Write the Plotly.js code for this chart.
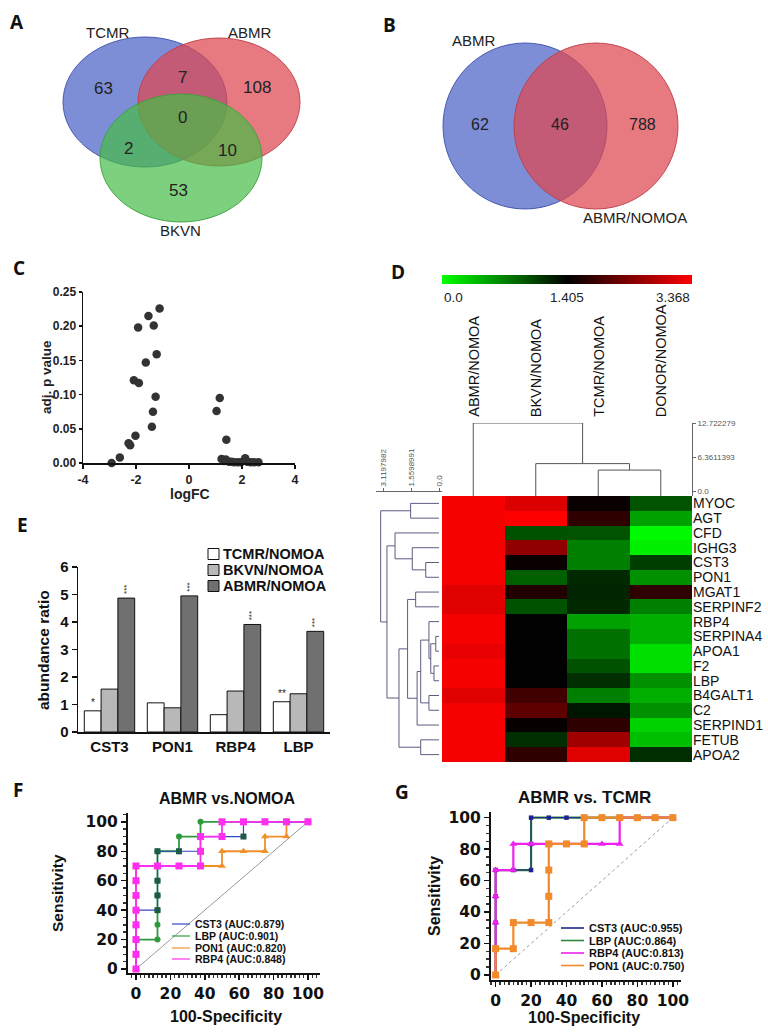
<!DOCTYPE html>
<html><head><meta charset="utf-8">
<script src="https://cdn.plot.ly/plotly-3.0.1.min.js"></script>
<style>body{margin:0;padding:0;background:#fff}#chart{width:768px;height:1033px}</style>
</head><body><div id="chart"></div>
<script>
// ---------------- DATA ----------------
// Panel A : three-set Venn
const vennA_sets = ['TCMR', 'ABMR', 'BKVN'];
// regions: TCMR only, ABMR only, BKVN only, TCMR∩ABMR, TCMR∩BKVN, ABMR∩BKVN, all three
const vennA_counts = [63, 108, 53, 7, 2, 10, 0];
// Panel B : two-set Venn
const vennB_sets = ['ABMR', 'ABMR/NOMOA'];
const vennB_counts = [62, 46, 788];   // ABMR only, both, ABMR/NOMOA only

// Panel C : volcano-like scatter
const volcano_logFC = [-2.92, -2.61, -2.28, -2.22, -2.02, -1.40, -1.36, -1.26, -2.08, -1.89, -1.63, -1.22, -1.92, -1.53, -1.33, -1.11,
  1.04, 1.16, 1.41, 1.23, 1.32, 1.39, 1.51, 1.61, 1.70, 1.83, 1.95, 2.12, 2.20, 2.33, 2.46, 2.62];
const volcano_adjP = [0.000, 0.008, 0.029, 0.026, 0.040, 0.053, 0.075, 0.097, 0.121, 0.117, 0.147, 0.159, 0.198, 0.215, 0.201, 0.226,
  0.076, 0.095, 0.034, 0.006, 0.003, 0.005, 0.002, 0.002, 0.001, 0.001, 0.001, 0.007, 0.002, 0.001, 0.001, 0.001];
const volcano_xticks = [-4, -2, 0, 2, 4];

// Panel D : heatmap
const heat_cols = ['ABMR/NOMOA', 'BKVN/NOMOA', 'TCMR/NOMOA', 'DONOR/NOMOA'];
const heat_genes = ['MYOC', 'AGT', 'CFD', 'IGHG3', 'CST3', 'PON1', 'MGAT1', 'SERPINF2', 'RBP4', 'SERPINA4',
  'APOA1', 'F2', 'LBP', 'B4GALT1', 'C2', 'SERPIND1', 'FETUB', 'APOA2'];
const heat_ABMR  = [3.30, 3.30, 3.30, 3.30, 3.30, 3.30, 3.13, 3.13, 3.30, 3.30, 3.20, 3.30, 3.30, 3.13, 3.30, 3.30, 3.30, 3.30];
const heat_BKVN  = [3.11, 3.37, 0.96, 2.51, 1.49, 0.88, 1.65, 0.96, 1.40, 1.40, 1.40, 1.40, 1.40, 1.90, 2.14, 1.46, 1.15, 1.77];
const heat_TCMR  = [1.49, 1.77, 0.94, 0.70, 0.70, 1.18, 1.20, 1.18, 0.52, 0.79, 0.79, 0.96, 1.15, 0.70, 1.29, 1.77, 2.64, 3.13];
const heat_DONOR = [0.94, 0.52, 0.02, 0.08, 1.07, 0.61, 1.77, 0.70, 0.44, 0.44, 0.17, 0.17, 0.61, 0.44, 0.61, 0.25, 0.35, 1.15];
const heat_scale = [0.0, 1.405, 3.368];
const heat_scale_labels = ['0.0', '1.405', '3.368'];
// column clustering: [childA, childB, height]  (leaves 0..3)
const col_linkage = [[2, 3, 4.0], [1, 4, 5.2], [0, 5, 12.722279]];
const col_scale_ticks = [0.0, 6.3611393, 12.722279];
// row clustering (leaves 0..17)
const row_linkage = [
  [0, 1, 1.58], [4, 5, 0.74], [3, 19, 1.49], [2, 20, 2.45], [6, 7, 1.30],
  [9, 10, 0.18], [11, 12, 0.28], [23, 24, 0.46], [8, 25, 0.56], [13, 14, 0.56],
  [26, 27, 1.02], [28, 15, 1.22], [22, 29, 1.75], [16, 17, 1.02], [30, 31, 2.23],
  [21, 32, 2.90], [18, 33, 3.25]];
const row_scale_ticks = [0.0, 1.5598991, 3.1197982];

// Panel E : abundance ratio
const abund_genes = ['CST3', 'PON1', 'RBP4', 'LBP'];
const abund_TCMR = [0.77, 1.06, 0.63, 1.10];
const abund_BKVN = [1.56, 0.88, 1.49, 1.39];
const abund_ABMR = [4.87, 4.95, 3.91, 3.66];
const abund_sig_TCMR = ['*', '', '', '**'];
const abund_sig_ABMR = ['***', '***', '***', '***'];
const abund_series = ['TCMR/NOMOA', 'BKVN/NOMOA', 'ABMR/NOMOA'];

// Panel F : ROC ABMR vs NOMOA
const rocF_names = ['CST3', 'LBP', 'PON1', 'RBP4'];
const rocF_auc = [0.879, 0.901, 0.820, 0.848];
const rocF_CST3_x = [0, 0, 0, 0, 0, 12.5, 12.5, 12.5, 12.5, 12.5, 25, 37.5, 37.5, 50, 62.5, 62.5, 75, 87.5, 100];
const rocF_CST3_y = [0, 10, 20, 30, 40, 40, 50, 60, 70, 80, 80, 80, 90, 90, 90, 100, 100, 100, 100];
const rocF_LBP_x = [0, 0, 0, 12.5, 12.5, 12.5, 12.5, 12.5, 12.5, 12.5, 25, 25, 37.5, 37.5, 50, 62.5, 75, 87.5, 100];
const rocF_LBP_y = [0, 10, 20, 20, 30, 40, 50, 60, 70, 80, 80, 90, 90, 100, 100, 100, 100, 100, 100];
const rocF_PON1_x = [0, 0, 0, 0, 0, 0, 0, 0, 12.5, 25, 37.5, 50, 50, 62.5, 75, 75, 87.5, 87.5, 100];
const rocF_PON1_y = [0, 10, 20, 30, 40, 50, 60, 70, 70, 70, 70, 70, 80, 80, 80, 90, 90, 100, 100];
const rocF_RBP4_x = [0, 0, 0, 0, 0, 0, 0, 0, 12.5, 25, 37.5, 37.5, 37.5, 50, 50, 62.5, 75, 87.5, 100];
const rocF_RBP4_y = [0, 10, 20, 30, 40, 50, 60, 70, 70, 70, 70, 80, 90, 90, 100, 100, 100, 100, 100];

// Panel G : ROC ABMR vs TCMR
const rocG_names = ['CST3', 'LBP', 'RBP4', 'PON1'];
const rocG_auc = [0.955, 0.864, 0.813, 0.750];
const rocG_CST3_x = [0, 0, 0, 0, 0, 10, 20, 20, 20, 30, 40, 50, 60, 70, 80, 90, 100];
const rocG_CST3_y = [0, 16.7, 33.3, 50, 66.7, 66.7, 66.7, 83.3, 100, 100, 100, 100, 100, 100, 100, 100, 100];
const rocG_LBP_x = [0, 0, 0, 0, 0, 10, 20, 20, 30, 40, 50, 60, 70, 80, 90, 100];
const rocG_LBP_y = [0, 16.7, 33.3, 50, 66.7, 66.7, 66.7, 100, 100, 100, 100, 100, 100, 100, 100, 100];
const rocG_RBP4_x = [0, 0, 0, 0, 0, 10, 10, 20, 30, 40, 50, 60, 70, 70, 80, 90, 100];
const rocG_RBP4_y = [0, 16.7, 33.3, 50, 66.7, 66.7, 83.3, 83.3, 83.3, 83.3, 83.3, 83.3, 83.3, 100, 100, 100, 100];
const rocG_PON1_x = [0, 0, 10, 10, 20, 30, 30, 30, 30, 40, 50, 50, 60, 70, 80, 90, 100];
const rocG_PON1_y = [0, 16.7, 16.7, 33.3, 33.3, 33.3, 50, 66.7, 83.3, 83.3, 83.3, 100, 100, 100, 100, 100, 100];
const roc_diag = [0, 100];

// ---------------- HELPERS ----------------
const W = 768, H = 1033;
const fx = p => p / W;
const fy = p => 1 - p / H;
const BOLD = 'bold';
const ARIAL = 'Liberation Sans, Arial, sans-serif';
const DJV = 'DejaVu Sans, sans-serif';

// builds elbow-connector polylines of a dendrogram; leafBase = where leaf legs end
function dendro(linkage, nLeaves, leafBase) {
  const pos = [], hh = [];
  for (let i = 0; i < nLeaves; i++) { pos.push(i); hh.push(leafBase); }
  const P = [], Hh = [];
  linkage.forEach(([a, b, ht]) => {
    P.push(pos[a], pos[a], pos[b], pos[b], null);
    Hh.push(hh[a], ht, ht, hh[b], null);
    pos.push((pos[a] + pos[b]) / 2); hh.push(ht);
  });
  return {P, H: Hh};
}

const traces = [];
const shapes = [];
const annotations = [];

function ann(text, px, py, o = {}) {
  annotations.push(Object.assign({
    text, x: fx(px), y: fy(py), xref: 'paper', yref: 'paper', showarrow: false,
    xanchor: 'center', yanchor: 'middle',
    font: {family: ARIAL, size: 14, color: '#111'}
  }, o));
}

// Panel letters
[['A', 17, 22], ['B', 389, 25], ['C', 19, 268], ['D', 398, 272], ['E', 22, 525], ['F', 18, 790], ['G', 402, 792]]
  .forEach(([t, x, y]) => ann(t, x, y, {font: {family: 'Open Sans, sans-serif', size: 19, weight: 700, color: '#111'}}));

// ---------------- Panel A ----------------
function ellipse(cx, cy, rx, ry, fill, line) {
  shapes.push({type: 'circle', xref: 'paper', yref: 'paper', x0: fx(cx - rx), x1: fx(cx + rx), y0: fy(cy + ry), y1: fy(cy - ry),
    fillcolor: fill, line: {color: line, width: 1}, layer: 'below'});
}
ellipse(145, 102, 82, 65, 'rgba(70,94,196,0.70)', 'rgba(60,80,170,0.9)');
ellipse(219, 102, 81, 64, 'rgba(222,70,80,0.72)', 'rgba(190,60,70,0.9)');
ellipse(181, 158, 81, 64, 'rgba(70,188,70,0.70)', 'rgba(60,160,60,0.9)');
ann(vennA_sets[0], 107, 33, {font: {family: ARIAL, size: 15, color: '#222'}});
ann(vennA_sets[1], 250, 33, {font: {family: ARIAL, size: 15, color: '#222'}});
ann(vennA_sets[2], 180, 230, {font: {family: ARIAL, size: 15, color: '#222'}});
const vennA_pos = [[103, 88], [257, 87], [178, 190], [182, 77], [128, 148], [227, 150], [182, 118]];
vennA_counts.forEach((c, i) => ann(String(c), vennA_pos[i][0], vennA_pos[i][1], {font: {family: ARIAL, size: 17, color: '#222'}}));

// ---------------- Panel B ----------------
ellipse(525, 126, 82, 83, 'rgba(70,94,196,0.70)', 'rgba(60,80,170,0.9)');
ellipse(596, 126, 82, 83, 'rgba(222,70,80,0.72)', 'rgba(190,60,70,0.9)');
ann(vennB_sets[0], 474, 40, {font: {family: ARIAL, size: 15, color: '#222'}});
ann(vennB_sets[1], 635, 217, {font: {family: ARIAL, size: 15, color: '#222'}});
const vennB_pos = [[480, 125], [560, 125], [642, 125]];
vennB_counts.forEach((c, i) => ann(String(c), vennB_pos[i][0], vennB_pos[i][1], {font: {family: ARIAL, size: 16, color: '#222'}}));

// ---------------- Panel C ----------------
traces.push({type: 'scatter', mode: 'markers', x: volcano_logFC, y: volcano_adjP, xaxis: 'x', yaxis: 'y',
  marker: {size: 8.5, color: '#333'}, cliponaxis: false, showlegend: false, hoverinfo: 'skip'});
ann('adj. p value', 46, 377, {textangle: -90, font: {family: ARIAL, size: 13.5, weight: BOLD, color: '#222'}});
ann('logFC', 190, 494, {font: {family: ARIAL, size: 14, weight: BOLD, color: '#222'}});

// ---------------- Panel D ----------------
// colour key: a two-row heatmap of the scale values, smoothly interpolated
traces.push({type: 'heatmap', z: [heat_scale, heat_scale], x: heat_scale.map((v, i) => i), y: [0, 1],
  xaxis: 'x3', yaxis: 'y3', zmin: heat_scale[0], zmax: heat_scale[2], zsmooth: 'best',
  colorscale: [[0, '#00ff00'], [heat_scale[1] / heat_scale[2], '#000000'], [1, '#ff0000']],
  showscale: false, hoverinfo: 'skip'});
heat_scale_labels.forEach((t, i) => annotations.push({text: t, x: i, xref: 'x3', y: fy(297), yref: 'paper', showarrow: false,
  xanchor: i === 0 ? 'left' : (i === heat_scale_labels.length - 1 ? 'right' : 'center'), yanchor: 'middle',
  font: {family: ARIAL, size: 13.5, color: '#222'}}));

const heatZ = heat_genes.map((g, r) => [heat_ABMR[r], heat_BKVN[r], heat_TCMR[r], heat_DONOR[r]]);
traces.push({type: 'heatmap', z: heatZ, x: heat_cols.map((c, i) => i), y: heat_genes.map((g, i) => i),
  xaxis: 'x2', yaxis: 'y2', zmin: heat_scale[0], zmax: heat_scale[2],
  colorscale: [[0, '#00ff00'], [heat_scale[1] / heat_scale[2], '#000000'], [1, '#ff0000']],
  showscale: false, hoverinfo: 'skip'});
const colBase = -0.8;
const cd = dendro(col_linkage, heat_cols.length, colBase);
traces.push({type: 'scatter', mode: 'lines', x: cd.P, y: cd.H, xaxis: 'x4', yaxis: 'y4',
  line: {color: '#555', width: 1}, showlegend: false, hoverinfo: 'skip', connectgaps: false, cliponaxis: false});
const rd = dendro(row_linkage, heat_genes.length, 0);
traces.push({type: 'scatter', mode: 'lines', x: rd.H, y: rd.P, xaxis: 'x5', yaxis: 'y5',
  line: {color: '#5c5c82', width: 1}, showlegend: false, hoverinfo: 'skip', connectgaps: false});
heat_cols.forEach((c, i) => annotations.push({text: c, x: i, xref: 'x2', y: fy(419), yref: 'paper',
  xanchor: 'center', yanchor: 'bottom', textangle: -90, showarrow: false,
  font: {family: ARIAL, size: 14.5, color: '#111'}}));

// ---------------- Panel E ----------------
const barColors = ['#ffffff', '#b8b8b8', '#707070'];
[abund_TCMR, abund_BKVN, abund_ABMR].forEach((vals, k) => traces.push({
  type: 'bar', x: abund_genes, y: vals, xaxis: 'x6', yaxis: 'y6', name: abund_series[k],
  marker: {color: barColors[k], line: {color: '#111', width: 1}}, showlegend: false, hoverinfo: 'skip'}));
abund_sig_TCMR.forEach((s, i) => { if (s) annotations.push({text: s, x: i - 0.2667, y: abund_TCMR[i], xref: 'x6', yref: 'y6',
  yanchor: 'bottom', showarrow: false, yshift: 1, font: {family: ARIAL, size: 10, color: '#222'}}); });
abund_sig_ABMR.forEach((s, i) => { if (s) annotations.push({text: s, x: i + 0.2667, y: abund_ABMR[i], xref: 'x6', yref: 'y6',
  yanchor: 'bottom', showarrow: false, yshift: 2, textangle: -90, font: {family: ARIAL, size: 8, color: '#222'}}); });
ann('abundance ratio', 43, 650, {textangle: -90, font: {family: ARIAL, size: 15.5, weight: BOLD, color: '#111'}});
const legE_y = [554, 570, 586];
abund_series.forEach((s, k) => {
  shapes.push({type: 'rect', xref: 'paper', yref: 'paper', x0: fx(208), x1: fx(219), y0: fy(legE_y[k] + 5.5), y1: fy(legE_y[k] - 5.5),
    fillcolor: barColors[k], line: {color: '#111', width: 1}});
  ann(s, 221, legE_y[k], {xanchor: 'left', font: {family: ARIAL, size: 14.5, weight: BOLD, color: '#111'}});
});

// ---------------- Panels F & G ----------------
function rocTrace(x, y, ax, color, width, sym, msize, mcolor) {
  return {type: 'scatter', mode: 'lines+markers', x, y, xaxis: 'x' + ax, yaxis: 'y' + ax,
    line: {color, width}, marker: {symbol: sym, size: msize, color: mcolor || color},
    cliponaxis: false, showlegend: false, hoverinfo: 'skip'};
}
const colF = {CST3: '#3346c8', LBP: '#2e9a3e', PON1: '#f0902a', RBP4: '#ff2ef0'};
traces.push({type: 'scatter', mode: 'lines', x: roc_diag, y: roc_diag, xaxis: 'x7', yaxis: 'y7',
  line: {color: '#999', width: 1}, showlegend: false, hoverinfo: 'skip'});
traces.push(rocTrace(rocF_PON1_x, rocF_PON1_y, 7, colF.PON1, 1.8, 'triangle-up', 7));
traces.push(rocTrace(rocF_LBP_x, rocF_LBP_y, 7, colF.LBP, 1.8, 'circle', 6));
traces.push(rocTrace(rocF_CST3_x, rocF_CST3_y, 7, colF.CST3, 1.2, 'square', 6, '#1e5a4a'));
traces.push(rocTrace(rocF_RBP4_x, rocF_RBP4_y, 7, colF.RBP4, 1.8, 'square', 7));
ann('ABMR vs.NOMOA', 227, 798, {font: {family: ARIAL, size: 16, weight: BOLD, color: '#111'}});
ann('Sensitivity', 57, 893, {textangle: -90, font: {family: ARIAL, size: 15.5, weight: BOLD, color: '#111'}});
ann('100-Specificity', 226, 1016, {font: {family: ARIAL, size: 16, weight: BOLD, color: '#111'}});
const legF_y = [924, 936, 948, 959];
rocF_names.forEach((n, k) => {
  shapes.push({type: 'line', xref: 'paper', yref: 'paper', x0: fx(172), x1: fx(190), y0: fy(legF_y[k]), y1: fy(legF_y[k]),
    line: {color: colF[n], width: 1.2}});
  ann(`${n} (AUC:${rocF_auc[k].toFixed(3)})`, 193, legF_y[k], {xanchor: 'left', font: {family: ARIAL, size: 10.5, weight: BOLD, color: '#111'}});
});

const colG = {CST3: '#22228e', LBP: '#2e8b3e', RBP4: '#ee22ee', PON1: '#f08a2a'};
traces.push({type: 'scatter', mode: 'lines', x: roc_diag, y: roc_diag, xaxis: 'x8', yaxis: 'y8',
  line: {color: '#999', width: 1, dash: 'dot'}, showlegend: false, hoverinfo: 'skip'});
traces.push(rocTrace(rocG_LBP_x, rocG_LBP_y, 8, colG.LBP, 2.2, 'circle', 0.1));
traces.push(rocTrace(rocG_CST3_x, rocG_CST3_y, 8, colG.CST3, 1.0, 'square', 4.5));
traces.push(rocTrace(rocG_RBP4_x, rocG_RBP4_y, 8, colG.RBP4, 2.2, 'triangle-up', 7));
traces.push(rocTrace(rocG_PON1_x, rocG_PON1_y, 8, colG.PON1, 2.2, 'square', 7));
ann('ABMR vs. TCMR', 584, 797, {font: {family: ARIAL, size: 17, weight: BOLD, color: '#111'}});
ann('Sensitivity', 434, 896, {textangle: -90, font: {family: ARIAL, size: 16, weight: BOLD, color: '#111'}});
ann('100-Specificity', 584, 1017, {font: {family: ARIAL, size: 16, weight: BOLD, color: '#111'}});
const legG_y = [928, 940.5, 953, 965.5];
rocG_names.forEach((n, k) => {
  shapes.push({type: 'line', xref: 'paper', yref: 'paper', x0: fx(561), x1: fx(584), y0: fy(legG_y[k]), y1: fy(legG_y[k]),
    line: {color: colG[n], width: 1.6}});
  ann(`${n} (AUC:${rocG_auc[k].toFixed(3)})`, 587, legG_y[k], {xanchor: 'left', font: {family: ARIAL, size: 11, weight: BOLD, color: '#111'}});
});

// ---------------- AXES ----------------
const noAx = {visible: false, showgrid: false, zeroline: false, fixedrange: true};
const base = {showgrid: false, zeroline: false, showline: true, linecolor: '#111', ticks: 'outside', tickcolor: '#111'};
const rocX = (dom, rng) => Object.assign({}, base, {domain: dom, range: rng, tick0: 0, dtick: 20, ticklen: 5, tickwidth: 1.5, linewidth: 2,
  minor: {ticks: 'outside', ticklen: 3, dtick: 2.5, tickcolor: '#333'}, tickfont: {family: DJV, size: 15.5, weight: BOLD, color: '#111'}});
const rocY = (dom, rng) => Object.assign({}, base, {domain: dom, range: rng, tick0: 0, dtick: 20, ticklen: 5, tickwidth: 1.5, linewidth: 2,
  minor: {ticks: 'outside', ticklen: 3, dtick: 5, tickcolor: '#333'}, tickfont: {family: DJV, size: 15.5, weight: BOLD, color: '#111'}});

const layout = {
  width: W, height: H, margin: {l: 0, r: 0, t: 0, b: 0}, paper_bgcolor: '#fff', plot_bgcolor: 'rgba(0,0,0,0)',
  font: {family: ARIAL, color: '#111'}, showlegend: false, barmode: 'group', bargap: 0.2, bargroupgap: 0,
  shapes, annotations,
  // C
  xaxis: Object.assign({}, base, {domain: [fx(83), fx(295)], anchor: 'y', range: [-4, 4], tickvals: volcano_xticks,
    ticktext: volcano_xticks.map(v => String(v)),
    ticklen: 4, tickwidth: 1.5, linewidth: 1.5, tickfont: {family: ARIAL, size: 12.5, weight: BOLD, color: '#222'}}),
  yaxis: Object.assign({}, base, {domain: [fy(463), fy(292)], anchor: 'x', range: [0, 0.25], tickvals: [0, 0.05, 0.10, 0.15, 0.20, 0.25],
    tickformat: '.2f', ticklen: 3, tickwidth: 1.5, linewidth: 1.5, tickfont: {family: ARIAL, size: 12, weight: BOLD, color: '#222'}}),
  // D heatmap
  xaxis2: Object.assign({}, noAx, {domain: [fx(442), fx(692)], anchor: 'y2', range: [-0.5, 3.5]}),
  yaxis2: {domain: [fy(762), fy(496)], anchor: 'x2', range: [17.5, -0.5], side: 'right', tickvals: heat_genes.map((g, i) => i),
    ticktext: heat_genes, ticks: '', showgrid: false, zeroline: false, showline: false,
    tickfont: {family: ARIAL, size: 14, color: '#111'}},
  // D colour key
  xaxis3: Object.assign({}, noAx, {domain: [fx(442), fx(692)], anchor: 'y3', range: [0, heat_scale.length - 1]}),
  yaxis3: Object.assign({}, noAx, {domain: [fy(284), fy(275)], anchor: 'x3', range: [0, 1]}),
  // D column dendrogram
  xaxis4: Object.assign({}, noAx, {domain: [fx(442), fx(692)], anchor: 'y4', range: [-0.5, 3.5]}),
  yaxis4: {domain: [fy(496), fy(423)], anchor: 'x4', side: 'right', range: [colBase, col_linkage[2][2]], tickvals: col_scale_ticks,
    ticktext: col_scale_ticks.map(v => v === 0 ? '0.0' : String(v)), ticks: 'outside', ticklen: 3, tickcolor: '#666',
    showline: true, linecolor: '#666', linewidth: 1, showgrid: false, zeroline: false,
    tickfont: {family: ARIAL, size: 8, color: '#555'}},
  // D row dendrogram
  xaxis5: {domain: [fx(376), fx(442)], anchor: 'free', position: fy(491), side: 'top', range: [3.51, -0.167],
    tickvals: row_scale_ticks, ticktext: row_scale_ticks.map(v => v === 0 ? '0.0' : String(v)), tickangle: -90,
    ticks: 'outside', ticklen: 3, tickcolor: '#666', showline: true, linecolor: '#666', linewidth: 1,
    showgrid: false, zeroline: false, tickfont: {family: ARIAL, size: 8, color: '#555'}},
  yaxis5: Object.assign({}, noAx, {domain: [fy(762), fy(496)], anchor: 'x5', range: [17.5, -0.5]}),
  // E
  xaxis6: Object.assign({}, base, {domain: [fx(78), fx(330)], anchor: 'y6', type: 'category', ticks: '', linewidth: 1.5,
    tickfont: {family: ARIAL, size: 15, weight: BOLD, color: '#111'}}),
  yaxis6: Object.assign({}, base, {domain: [fy(732), fy(567)], anchor: 'x6', range: [0, 6], dtick: 1, ticklen: 5, tickwidth: 1.5,
    linewidth: 1.5, tickfont: {family: ARIAL, size: 15, weight: BOLD, color: '#111'}}),
  // F
  xaxis7: Object.assign(rocX([fx(128), fx(320)], [-4.65, 107]), {anchor: 'y7'}),
  yaxis7: Object.assign(rocY([fy(973), fy(813)], [-2.7, 106]), {anchor: 'x7'}),
  // G
  xaxis8: Object.assign(rocX([fx(491), fx(681)], [-2.6, 104.6]), {anchor: 'y8'}),
  yaxis8: Object.assign(rocY([fy(980), fy(812)], [-3.2, 103.6]), {anchor: 'x8'})
};

Plotly.newPlot('chart', traces, layout, {staticPlot: true, displayModeBar: false});
</script>
</body></html>
